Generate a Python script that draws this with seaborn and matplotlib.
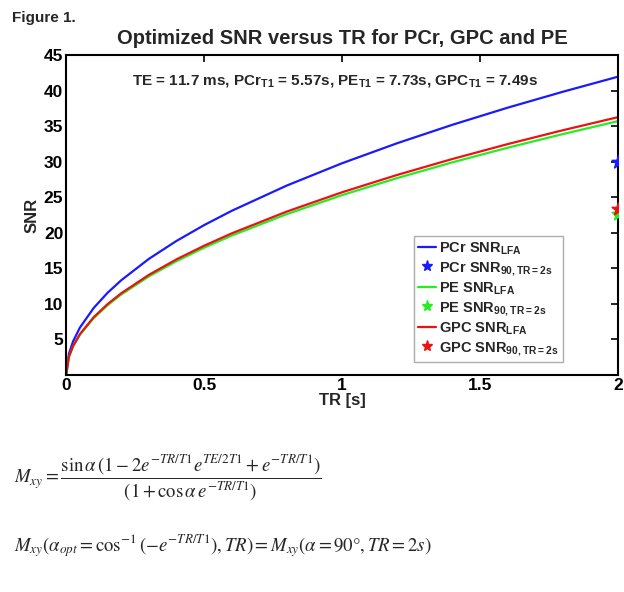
import numpy as np
import pandas as pd
import matplotlib
matplotlib.use("Agg")
import matplotlib.pyplot as plt
import seaborn as sns

# TR samples [s] and SNR
tr = [0, 0.01, 0.025, 0.05, 0.1, 0.15, 0.2, 0.3, 0.4, 0.5, 0.6, 0.8,
      1.0, 1.2, 1.4, 1.6, 1.8, 2.0]
pcr_lfa = [0, 2.98, 4.71, 6.67, 9.43, 11.55, 13.33, 16.33, 18.85, 21.07,
           23.08, 26.64, 29.77, 32.59, 35.18, 37.58, 39.82, 41.94]
pe_lfa = [0, 2.53, 4.00, 5.66, 8.00, 9.80, 11.32, 13.86, 16.00, 17.89,
          19.60, 22.62, 25.29, 27.69, 29.90, 31.95, 33.87, 35.69]
gpc_lfa = [0, 2.57, 4.06, 5.75, 8.13, 9.96, 11.50, 14.08, 16.26, 18.17,
           19.91, 22.98, 25.69, 28.13, 30.37, 32.46, 34.41, 36.25]

# 90 degree SNR at TR = 2 s
tr90 = [2.0]
pcr_90 = [30.0]
pe_90 = [22.7]
gpc_90 = [23.3]

sns.set_style("white")
plt.rcParams['font.family'] = ['Liberation Sans', 'DejaVu Sans']
plt.rcParams['mathtext.fontset'] = 'custom'
plt.rcParams['mathtext.rm'] = 'Liberation Sans:bold'
plt.rcParams['mathtext.bf'] = 'Liberation Sans:bold'
plt.rcParams['mathtext.default'] = 'it'

fig = plt.figure(figsize=(6.24, 5.92), dpi=100)
ax = fig.add_axes([0.106, 0.3666, 0.884, 0.5405])

df = pd.DataFrame({'TR': tr, 'PCr': pcr_lfa, 'PE': pe_lfa, 'GPC': gpc_lfa})
colors = {'PCr': '#1a1aff', 'PE': '#22ee22', 'GPC': '#ee1111'}
handles = []
for name in ['PCr', 'PE', 'GPC']:
    sns.lineplot(data=df, x='TR', y=name, color=colors[name], lw=1.6,
                 ax=ax, label='_nolegend_')
    h1, = ax.plot([], [], color=colors[name], lw=1.6)
    h2, = ax.plot([], [], ls='none', marker='*', ms=8, color=colors[name])
    handles += [(h1, name + r' SNR$_{\mathrm{LFA}}$'),
                (h2, name + r' SNR$_{\mathrm{90,TR{=}2s}}$')]

for name, v90 in [('PCr', pcr_90), ('PE', pe_90), ('GPC', gpc_90)]:
    sns.scatterplot(x=tr90, y=v90, marker='*', s=90, color=colors[name],
                    edgecolor=colors[name], linewidth=1.2, ax=ax, zorder=5,
                    clip_on=True)

ax.set_xlim(0, 2)
ax.set_ylim(0, 45)
ax.set_xticks([0, 0.5, 1, 1.5, 2])
ax.set_xticklabels(['0', '0.5', '1', '1.5', '2'])
ax.set_yticks([5, 10, 15, 20, 25, 30, 35, 40, 45])
ax.tick_params(direction='in', length=5, width=1.2, labelsize=12.5,
               top=True, right=True, pad=2, colors='black')
for lbl in ax.get_xticklabels() + ax.get_yticklabels():
    lbl.set_fontweight('bold')
for s in ax.spines.values():
    s.set_linewidth(1.5)
    s.set_color('black')

ax.set_xlabel('TR [s]', fontsize=12, fontweight='bold', labelpad=0)
ax.set_ylabel('SNR', fontsize=12, fontweight='bold', labelpad=3)
ax.set_title('Optimized SNR versus TR for PCr, GPC and PE', fontsize=14.5,
             fontweight='bold', pad=8)

ax.text(0.12, 0.915, r'TE = 11.7 ms, PCr$_{\mathrm{T1}}$ = 5.57s, '
        r'PE$_{\mathrm{T1}}$ = 7.73s, GPC$_{\mathrm{T1}}$ = 7.49s',
        transform=ax.transAxes, fontsize=11, fontweight='bold',
        va='center')

leg = ax.legend([h for h, _ in handles], [l for _, l in handles],
                loc='lower right', bbox_to_anchor=(0.9, 0.04), fontsize=10.5,
                frameon=True, fancybox=False, handlelength=1.2,
                handletextpad=0.2, borderpad=0.3, labelspacing=0.2,
                borderaxespad=0)
leg.get_frame().set_edgecolor('#999999')
leg.get_frame().set_linewidth(1.0)
for t in leg.get_texts():
    t.set_fontweight('bold')

fig.text(0.02, 0.969, 'Figure 1.', fontsize=11, fontweight='bold', va='center')

eq1 = (r'$M_{xy} = \dfrac{\sin\alpha\,(1 - 2e^{-TR/T1}e^{TE/2T1} + e^{-TR/T1})}'
       r'{(1 + \cos\alpha\,e^{-TR/T1})}$')
eq2 = (r'$M_{xy}(\alpha_{opt} = \cos^{-1}(-e^{-TR/T1}), TR) = '
       r'M_{xy}(\alpha = 90\degree, TR = 2s)$')
fig.text(0.022, 0.193, eq1, fontsize=13.5, math_fontfamily='stix',
         fontweight='normal', va='center')
fig.text(0.022, 0.078, eq2, fontsize=13.5, math_fontfamily='stix',
         fontweight='normal', va='center')

fig.savefig('out.png', dpi=100, facecolor='white')
